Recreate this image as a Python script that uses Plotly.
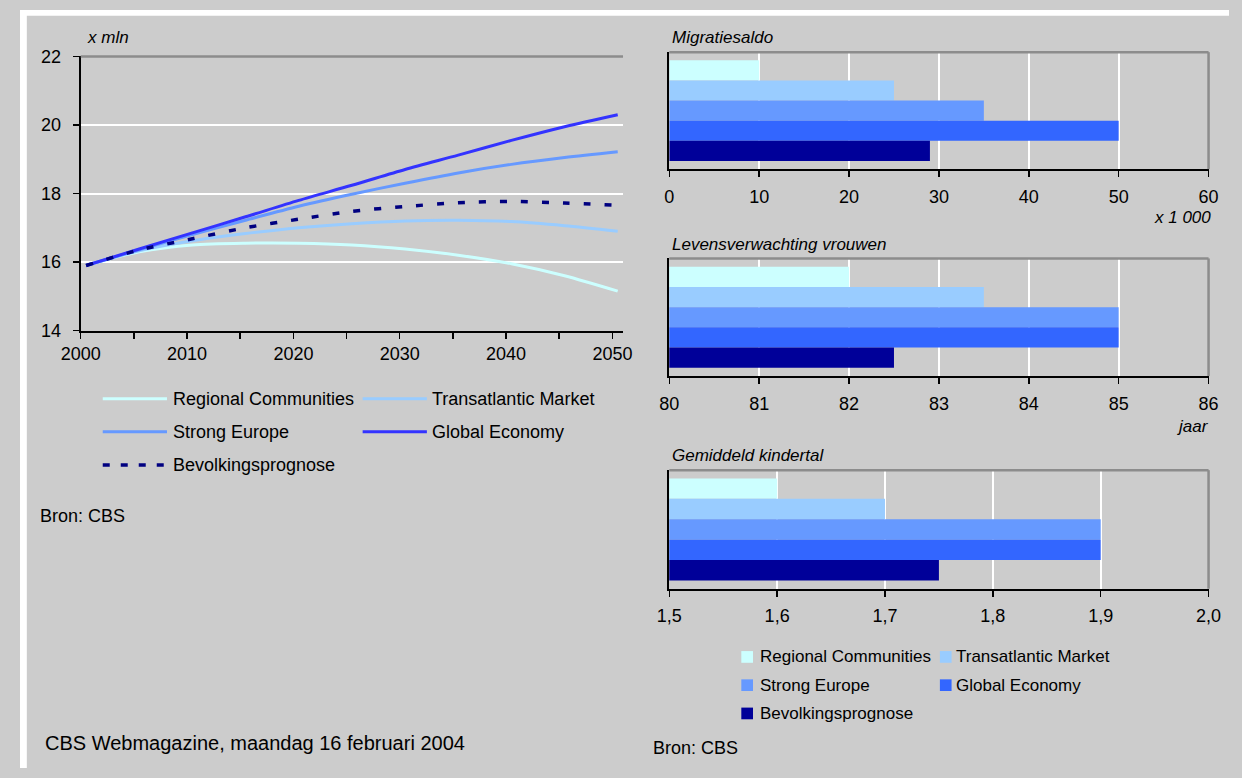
import plotly.graph_objects as go

W, H = 1242, 778
FONT = "Liberation Sans, Arial, sans-serif"

# ---- data -------------------------------------------------------------
scenarios = ["Regional Communities", "Transatlantic Market", "Strong Europe",
             "Global Economy", "Bevolkingsprognose"]

# population, x mln
years = [2000, 2005, 2010, 2015, 2020, 2025, 2030, 2035, 2040, 2045, 2050]
regional = [15.9, 16.3, 16.5, 16.55, 16.55, 16.5, 16.38, 16.2, 15.95, 15.6, 15.15]
transatlantic = [15.9, 16.33, 16.62, 16.83, 17.0, 17.12, 17.2, 17.22, 17.18, 17.06, 16.9]
strong_europe = [15.9, 16.36, 16.8, 17.22, 17.63, 17.98, 18.3, 18.6, 18.85, 19.05, 19.22]
global_economy = [15.9, 16.38, 16.85, 17.32, 17.8, 18.24, 18.7, 19.12, 19.55, 19.95, 20.3]
bevolkingsprognose = [15.9, 16.35, 16.68, 17.0, 17.25, 17.48, 17.62, 17.73, 17.77, 17.72, 17.66]
population = [regional, transatlantic, strong_europe, global_economy, bevolkingsprognose]

decade_labels = ["2000", "", "2010", "", "2020", "", "2030", "", "2040", "", "2050"]

migratiesaldo = [10, 25, 35, 50, 29]          # x 1 000
levensverwachting = [82, 83.5, 85, 85, 82.5]  # jaar
kindertal = [1.6, 1.7, 1.9, 1.9, 1.75]
kindertal_ticks = [1.5, 1.6, 1.7, 1.8, 1.9, 2.0]
kindertal_labels = ["1,5", "1,6", "1,7", "1,8", "1,9", "2,0"]

line_colors = ["#ccffff", "#99ccff", "#6699ff", "#3333ff", "#000080"]
bar_colors = ["#ccffff", "#99ccff", "#6699ff", "#3366ff", "#000099"]
BG = "#cccccc"
BORDER = "#8c8c8c"


def fx(px):
    return px / W


def fy(py):
    return 1 - py / H


fig = go.Figure()

# ---- population lines -------------------------------------------------
for name, vals, col in zip(scenarios, population, line_colors):
    dashed = name == "Bevolkingsprognose"
    fig.add_trace(go.Scatter(
        x=years, y=vals, name=name, mode="lines",
        line=dict(color=col, width=3.5 if dashed else 3,
                  dash="7px,14px" if dashed else "solid",
                  shape="spline", smoothing=0.8),
        xaxis="x", yaxis="y", showlegend=False))

# ---- bar panels -------------------------------------------------------
panels = [("Migratiesaldo", migratiesaldo, "2"),
          ("Levensverwachting vrouwen", levensverwachting, "3"),
          ("Gemiddeld kindertal", kindertal, "4")]
for title, vals, ax in panels:
    for name, v, col in zip(scenarios, vals, bar_colors):
        fig.add_trace(go.Bar(
            x=[v], y=[title], name=name, orientation="h",
            marker=dict(color=col, line=dict(width=0)),
            xaxis="x" + ax, yaxis="y" + ax, showlegend=False))

tickfont = dict(family=FONT, size=18, color="#000000")

common_x = dict(showline=True, linecolor="#000000", linewidth=2,
                ticks="outside", ticklen=6, tickwidth=1.5, tickcolor="#000000",
                tickfont=tickfont, zeroline=False, fixedrange=True)
bar_y = dict(showline=True, linecolor="#000000", linewidth=2, ticks="",
             showticklabels=False, showgrid=False, zeroline=False,
             autorange="reversed", fixedrange=True)

layout = dict(
    width=W, height=H, margin=dict(l=0, r=0, t=0, b=0, pad=0),
    paper_bgcolor=BG, plot_bgcolor="rgba(0,0,0,0)",
    barmode="group", bargap=0.14, bargroupgap=0,
    font=dict(family=FONT, size=18, color="#000000"),
    showlegend=False,
    xaxis=dict(common_x, domain=[fx(62.4), fx(619.5)], anchor="y",
               range=[1999.5, 2050.5],
               tickvals=[y - 0.5 for y in years], ticktext=decade_labels,
               showgrid=False, ticklabelstandoff=0),
    yaxis=dict(domain=[fy(329), fy(47.7)], anchor="x", range=[14, 22], dtick=2,
               showline=True, linecolor="#000000", linewidth=2,
               ticks="outside", ticklen=6, tickwidth=1.5, tickcolor="#000000",
               tickfont=tickfont, showgrid=True, gridcolor="#ffffff", gridwidth=2,
               zeroline=False, ticklabelstandoff=8, fixedrange=True),
    xaxis2=dict(common_x, domain=[fx(667), fx(1221)], anchor="y2", range=[0, 60],
                dtick=10, showgrid=True, gridcolor="#ffffff", gridwidth=2,
                ticklabelstandoff=4),
    yaxis2=dict(bar_y, domain=[fy(163.3), fy(43.3)], anchor="x2"),
    xaxis3=dict(common_x, domain=[fx(667), fx(1221)], anchor="y3", range=[80, 86],
                dtick=1, showgrid=True, gridcolor="#ffffff", gridwidth=2,
                ticklabelstandoff=4),
    yaxis3=dict(bar_y, domain=[fy(375.7), fy(255)], anchor="x3"),
    xaxis4=dict(common_x, domain=[fx(667), fx(1221)], anchor="y4", range=[1.5, 2.0],
                tickvals=kindertal_ticks, ticktext=kindertal_labels,
                showgrid=True, gridcolor="#ffffff", gridwidth=2,
                ticklabelstandoff=4),
    yaxis4=dict(bar_y, domain=[fy(594), fy(472.3)], anchor="x4"),
)
fig.update_layout(**layout)

shapes = []
# white page edge along the top and the left
shapes.append(dict(type="rect", xref="paper", yref="paper",
                   x0=0, x1=1, y0=fy(6), y1=1,
                   fillcolor="#ffffff", line=dict(width=0), layer="below"))
shapes.append(dict(type="rect", xref="paper", yref="paper",
                   x0=0, x1=fx(7), y0=0, y1=1,
                   fillcolor="#ffffff", line=dict(width=0), layer="below"))
# top border of the line chart
shapes.append(dict(type="line", xref="x domain", yref="y domain",
                   x0=0, x1=1, y0=1, y1=1,
                   line=dict(color=BORDER, width=2.5), layer="above"))
# top / right borders of the bar panels
for ax in ["2", "3", "4"]:
    shapes.append(dict(type="line", xref=f"x{ax} domain", yref=f"y{ax} domain",
                       x0=0, x1=1, y0=1, y1=1,
                       line=dict(color=BORDER, width=2.5), layer="above"))
    shapes.append(dict(type="line", xref=f"x{ax} domain", yref=f"y{ax} domain",
                       x0=1, x1=1, y0=0, y1=1,
                       line=dict(color=BORDER, width=2.5), layer="above"))

annotations = []


def text(x, y, s, size=18, italic=False, anchor="left"):
    annotations.append(dict(
        x=fx(x), y=fy(y), xref="paper", yref="paper", text=s, showarrow=False,
        xanchor=anchor, yanchor="middle",
        font=dict(family=FONT, size=size, color="#000000",
                  style="italic" if italic else "normal")))


# legend of the line chart
line_rows = [(85, 151, 155, 399), (352, 418, 421, 399),
             (85, 151, 155, 433), (352, 418, 421, 433),
             (85, 151, 155, 467)]
for (x0, x1, tx, ty), name, col in zip(line_rows, scenarios, line_colors):
    dashed = name == "Bevolkingsprognose"
    shapes.append(dict(type="line", xref="paper", yref="paper",
                       x0=fx(x0), x1=fx(x1), y0=fy(ty), y1=fy(ty),
                       line=dict(color=col, width=3.5 if dashed else 3,
                                 dash="7px,11px" if dashed else "solid")))
    text(tx, ty, name, size=18)

# legend of the bar panels
bar_rows = [(741, 758, 664), (945, 960, 664),
            (741, 758, 693), (945, 960, 693),
            (741, 758, 722)]
for (sx, tx, ty), name, col in zip(bar_rows, scenarios, bar_colors):
    shapes.append(dict(type="rect", xref="paper", yref="paper",
                       x0=fx(sx), x1=fx(sx + 12), y0=fy(ty + 6), y1=fy(ty - 6),
                       fillcolor=col, line=dict(width=0)))
    text(tx, ty, name, size=17)

text(67, 28, "x mln", size=17, italic=True)
text(668, 28, "Migratiesaldo", size=17, italic=True)
text(1226, 213, "x 1 000", size=17, italic=True, anchor="right")
text(668, 241, "Levensverwachting vrouwen", size=17, italic=True)
text(1224, 427, "jaar", size=17, italic=True, anchor="right")
text(668, 457, "Gemiddeld kindertal", size=17, italic=True)
text(18, 519, "Bron: CBS", size=18)
text(648, 757, "Bron: CBS", size=18)
text(24, 752, "CBS Webmagazine, maandag 16 februari 2004", size=20)

fig.update_layout(shapes=shapes, annotations=annotations)

# a static figure: no drag handles or hover layers around the axes
fig.write_html("out.html", config={"staticPlot": True, "displayModeBar": False})
